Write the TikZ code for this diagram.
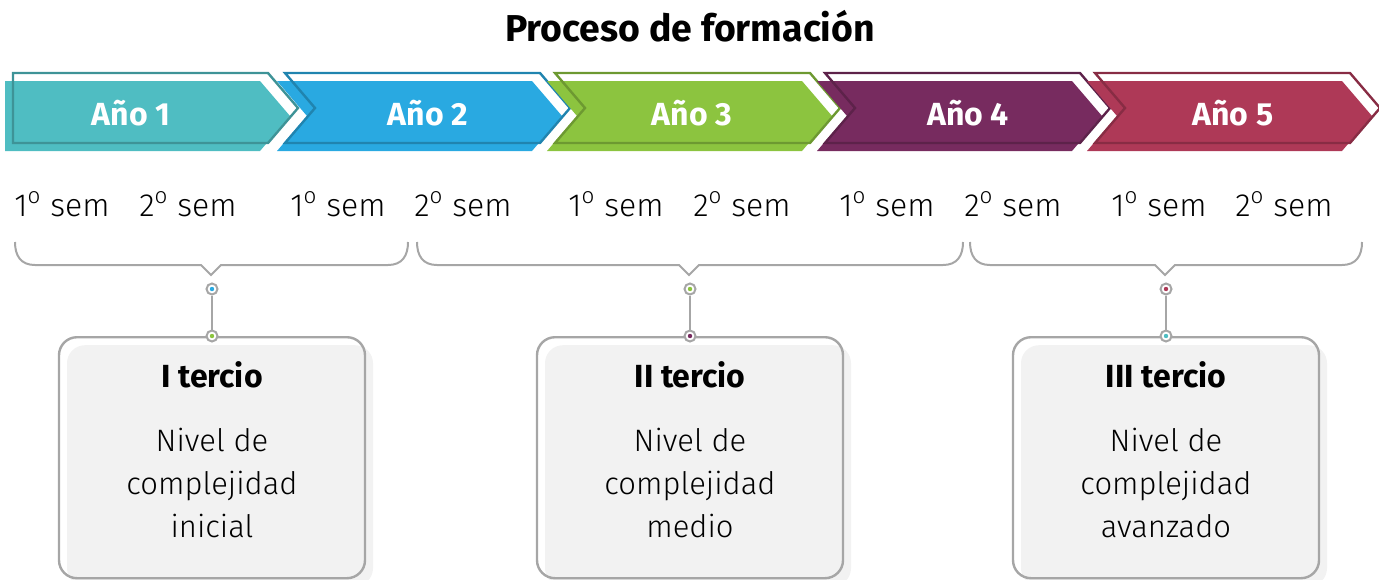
\documentclass[tikz,border=0pt]{standalone}
\usepackage{fontspec}
\setmainfont{Fira Sans}[UprightFont=* Light, BoldFont=* Bold]
\usepackage{xcolor}
\usetikzlibrary{positioning,shadows}

\definecolor{yteal}{HTML}{4FBDC2}
\definecolor{yblue}{HTML}{29A9E1}
\definecolor{ygreen}{HTML}{8CC43F}
\definecolor{ypurple}{HTML}{772B5F}
\definecolor{ycrimson}{HTML}{AE3957}
\definecolor{linegray}{HTML}{A6A6A6}
\definecolor{boxfill}{HTML}{F2F2F2}

\begin{document}
\begin{tikzpicture}[x=0.5pt,y=-0.5pt,
		yearlabel/.style={font=\bfseries\fontsize{16}{19}\selectfont, text=white},
		semlabel/.style={font=\fontsize{16}{19}\selectfont, anchor=base},
		brace/.style={draw=linegray, line width=1pt},
		link/.style={draw=linegray, line width=1.3pt},
		dot/.style={circle, draw=linegray, fill=white, line width=1pt, inner sep=0pt, minimum size=5.5pt,
			path picture={\fill[#1] (path picture bounding box.center) circle (1.1pt);}},
		tercio/.style={draw=linegray, line width=1.2pt, rounded corners=9pt, anchor=north,
			minimum width=153pt, minimum height=120.5pt,
			drop shadow={shadow xshift=4pt, shadow yshift=-4pt, fill=boxfill, opacity=1}},
		heading/.style={font=\bfseries\fontsize{16}{19}\selectfont, anchor=base},
		detail/.style={font=\fontsize{15.5}{21.5}\selectfont, align=center, anchor=north}]
	\useasboundingbox (0,0) rectangle (1379,579);
	\node[font=\bfseries\fontsize{18.7}{23}\selectfont, anchor=base] (title) at (690,41) {Proceso de formación};
	% year arrows
	\foreach \k/\xl/\nd/\c/\lx in {1/5/0/yteal/131, 2/277/30/yblue/428, 3/547/30/ygreen/692,
			4/817/30/ypurple/968, 5/1087/30/ycrimson/1233}{
		\fill[\c] (\xl,81) -- (\xl+255,81) -- (\xl+285,116) -- (\xl+255,151) -- (\xl,151) -- (\xl+\nd,116) -- cycle;
		\draw[\c!78!black, line width=1.2pt] (\xl+8,73) -- (\xl+263,73) -- (\xl+293,108) -- (\xl+263,143)
			-- (\xl+8,143) -- (\xl+8+\nd,108) -- cycle;
		\node[yearlabel] (y\k) at (\lx,113) {Año \k};
	}
	% semesters
	\foreach \x/\n [count=\i] in {62/1, 188/2, 338/1, 463/2, 616/1, 742/2, 887/1, 1013/2, 1159/1, 1284/2}
		\node[semlabel] (s\i) at (\x,216) {\n\textsuperscript{o} sem};
	% braces
	\foreach \xa/\xb/\xm [count=\i] in {15/408/211, 417/963/689, 970/1362/1165}{
		\draw[brace] (\xa,242) .. controls (\xa,256) and (\xa+6,265) .. (\xa+20,265) -- (\xm-10,265) -- (\xm,275)
			-- (\xm+10,265) -- (\xb-20,265) .. controls (\xb-6,265) and (\xb,256) .. (\xb,242);
		\coordinate (br\i) at (\xm,275);
	}
	% tercios
	\foreach \xm/\ca/\cb/\r/\lvl [count=\i] in {212/yblue/ygreen/I/inicial, 690/ygreen/ypurple/II/medio,
			1166/ycrimson/yteal/III/avanzado}{
		\node[tercio] (t\i) at (\xm,336) {};
		\node[dot=\ca] (u\i) at (\xm,289) {};
		\node[dot=\cb] (l\i) at (t\i.north) {};
		\draw[link] (u\i) -- (l\i);
		\node[heading] (h\i) at (\xm,387) {\r\ tercio};
		\node[detail] (d\i) at (\xm,421) {Nivel de\\complejidad\\\lvl};
	}
\end{tikzpicture}
\end{document}
